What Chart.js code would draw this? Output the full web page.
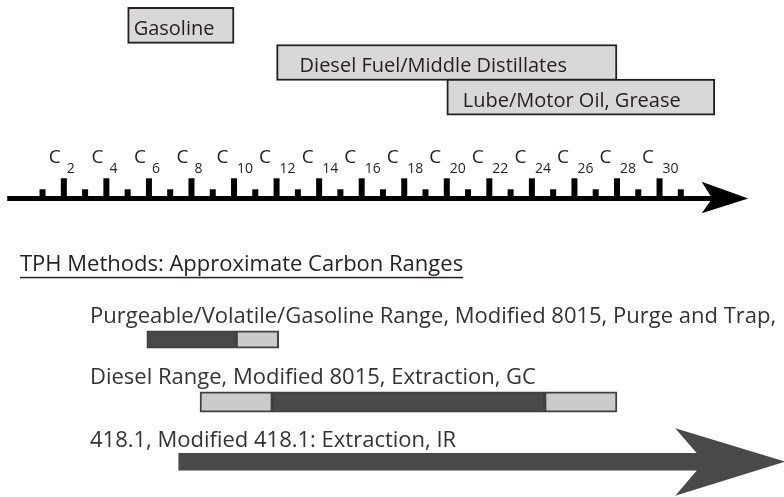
<!DOCTYPE html>
<html>
<head>
<meta charset="utf-8">
<script src="https://cdn.jsdelivr.net/npm/chart.js@4.4.1/dist/chart.umd.min.js"></script>
<style>
  html, body { margin: 0; padding: 0; background: #fff; }
  #wrap { width: 784px; height: 497px; position: relative; }
</style>
</head>
<body>
<div id="wrap"><canvas id="rangeChart"></canvas></div>
<script>
// Petroleum products and their carbon number ranges
const productNames = ['Gasoline', 'Diesel Fuel/Middle Distillates', 'Lube/Motor Oil, Grease'];
const productRanges = [[5, 10], [12, 28], [20, 32.6]];

// Carbon number axis
const carbonTicks = [1, 2, 3, 4, 5, 6, 7, 8, 9, 10, 11, 12, 13, 14, 15, 16, 17, 18, 19, 20,
                     21, 22, 23, 24, 25, 26, 27, 28, 29, 30, 31];
const carbonLabels = [2, 4, 6, 8, 10, 12, 14, 16, 18, 20, 22, 24, 26, 28, 30];
const axisExtent = [-0.66, 34.17];

// TPH methods: core range (dark) and approximate ends (light)
const methodTitle = 'TPH Methods: Approximate Carbon Ranges';
const methodNames = [
    'Purgeable/Volatile/Gasoline Range, Modified 8015, Purge and Trap,',
    'Diesel Range, Modified 8015, Extraction, GC',
    '418.1, Modified 418.1: Extraction, IR'
];
const purgeableCore = [5.9, 10.1];
const purgeableApprox = [10.1, 12.1];
const dieselCore = [11.8, 24.6];
const dieselApproxLow = [8.4, 11.8];
const dieselApproxHigh = [24.6, 28];
const irRange = [7.4, 32.1];

// Layout (y positions in pixels, y scale runs 0..497 top-down)
const boxY = [25.3, 62.5, 97.2];
const boxTextPad = [6, 23, 16];
const rowY = { purgeable: 339.5, diesel: 402, ir: 461.7 };
const textY = { title: 270.7, purgeable: 323.3, diesel: 384.3, ir: 446.7 };
const axisY = 198.5;

const DARK = '#494949';
const LIGHT = '#cbcbcb';
const FONT = '"Open Sans", "Noto Sans", sans-serif';

// Draw axis, labels and arrow heads on top of the bars
const diagramPlugin = {
    id: 'diagram',
    afterDatasetsDraw(chart) {
        const ctx = chart.ctx;
        const xs = chart.scales.x;
        const ys = chart.scales.y;
        const px = v => xs.getPixelForValue(v);
        const py = v => ys.getPixelForValue(v);
        ctx.save();

        // Labels inside the product boxes
        ctx.fillStyle = '#231f20';
        ctx.font = '20px ' + FONT;
        ctx.textAlign = 'left';
        ctx.textBaseline = 'alphabetic';
        productNames.forEach((name, i) => {
            ctx.fillText(name, px(productRanges[i][0]) + boxTextPad[i], py(boxY[i]) + 9.5);
        });

        // Carbon axis line with arrow head
        ctx.fillStyle = '#000';
        const ay = py(axisY);
        const x0 = px(axisExtent[0]);
        const tip = px(axisExtent[1]);
        ctx.fillRect(x0, ay - 2.5, tip - 36 - x0, 5);
        ctx.beginPath();
        ctx.moveTo(tip - 46.6, ay - 16.8);
        ctx.lineTo(tip, ay);
        ctx.lineTo(tip - 46.6, ay + 14.8);
        ctx.lineTo(tip - 36, ay);
        ctx.closePath();
        ctx.fill();

        // Tick marks: tall on even carbons, short on odd
        carbonTicks.forEach(c => {
            const h = c % 2 === 0 ? 20.2 : 9.2;
            ctx.fillRect(px(c) - 3, ay - h, 6, h);
        });

        // C labels with subscripts
        ctx.fillStyle = '#231f20';
        carbonLabels.forEach(c => {
            const p = px(c);
            const two = c >= 10;
            ctx.font = '19px ' + FONT;
            ctx.textAlign = 'right';
            ctx.fillText('C', p - (two ? 5.5 : 3), 162.7);
            ctx.font = '14px ' + FONT;
            ctx.textAlign = 'left';
            ctx.fillText(String(c), p + 3, 173.3);
        });

        // Method section title, underlined
        ctx.fillStyle = '#231f20';
        ctx.font = '22px ' + FONT;
        ctx.textAlign = 'left';
        ctx.fillText(methodTitle, 20, textY.title);
        const tw = ctx.measureText(methodTitle).width;
        ctx.fillRect(20, 276.8, tw, 1.5);

        // Method names
        ctx.fillStyle = '#333';
        ctx.font = '22px ' + FONT;
        ctx.fillText(methodNames[0], 90, textY.purgeable);
        ctx.fillText(methodNames[1], 90, textY.diesel);
        ctx.fillText(methodNames[2], 90, textY.ir);

        // Arrow head at the end of the IR range
        const end = px(irRange[1]);
        const iy = py(rowY.ir);
        ctx.fillStyle = DARK;
        ctx.beginPath();
        ctx.moveTo(end - 29, iy - 33.4);
        ctx.lineTo(end + 81, iy);
        ctx.lineTo(end - 29, iy + 34);
        ctx.lineTo(end, iy);
        ctx.closePath();
        ctx.fill();

        ctx.restore();
    }
};

const ctx = document.getElementById('rangeChart').getContext('2d');
const rangeChart = new Chart(ctx, {
    type: 'bar',
    data: {
        datasets: [
            {
                label: 'Products',
                data: productRanges.map((r, i) => ({ x: r, y: boxY[i] })),
                backgroundColor: '#d8d8d8',
                borderColor: '#231f20',
                borderWidth: 2,
                borderSkipped: false,
                barThickness: 36
            },
            {
                label: 'Purgeable',
                data: [
                    { x: purgeableCore, y: rowY.purgeable },
                    { x: purgeableApprox, y: rowY.purgeable }
                ],
                backgroundColor: [DARK, LIGHT],
                borderColor: '#404040',
                borderWidth: 2,
                borderSkipped: false,
                barThickness: 17.5
            },
            {
                label: 'Diesel',
                data: [
                    { x: dieselApproxLow, y: rowY.diesel },
                    { x: dieselCore, y: rowY.diesel },
                    { x: dieselApproxHigh, y: rowY.diesel }
                ],
                backgroundColor: [LIGHT, DARK, LIGHT],
                borderColor: '#404040',
                borderWidth: 2,
                borderSkipped: false,
                barThickness: 20.5
            },
            {
                label: 'IR',
                data: [{ x: irRange, y: rowY.ir }],
                backgroundColor: DARK,
                borderWidth: 0,
                barThickness: 16.7
            }
        ]
    },
    options: {
        indexAxis: 'y',
        responsive: true,
        maintainAspectRatio: false,
        animation: false,
        skipNull: true,
        layout: { padding: 0 },
        plugins: {
            legend: { display: false },
            tooltip: { enabled: false }
        },
        scales: {
            x: { type: 'linear', min: -1, max: 35.85, display: false },
            y: { type: 'linear', min: 0, max: 497, reverse: true, offset: false, display: false }
        }
    },
    plugins: [diagramPlugin]
});
</script>
</body>
</html>
